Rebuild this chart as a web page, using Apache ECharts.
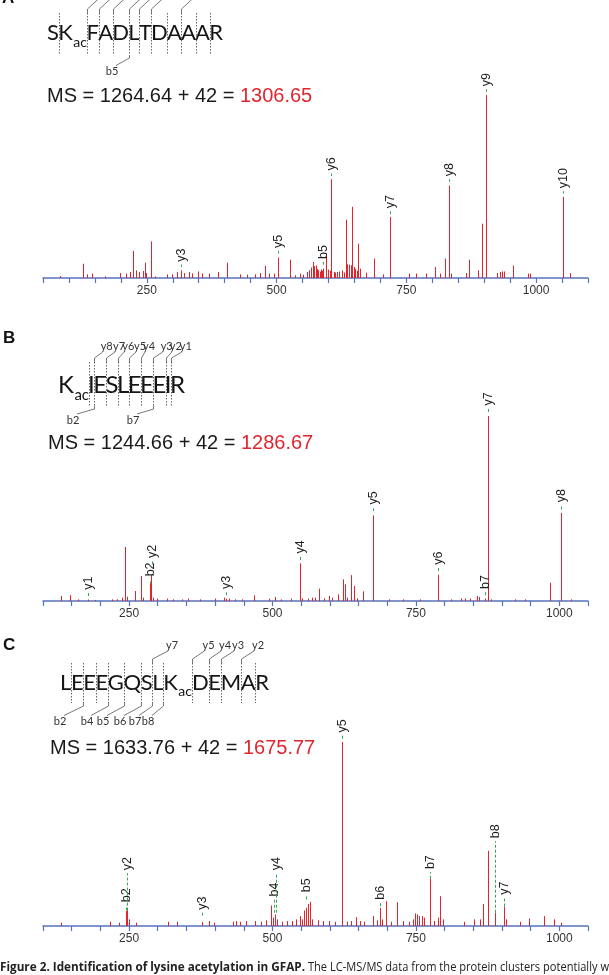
<!DOCTYPE html>
<html>
<head>
<meta charset="utf-8">
<script src="https://cdn.jsdelivr.net/npm/echarts@6/dist/echarts.min.js"></script>
<style>
  html, body { margin: 0; padding: 0; background: #fff; }
  #chart { width: 609px; height: 975px; }
</style>
</head>
<body>
<div id="chart"></div>
<script>
// ---- panel A : SKacFADLTDAAAR ----
const mzA = [83.7,126.4,133.9,143.6,169.8,198.3,209.5,217,223.8,228.3,235.8,241.8,246.3,249.3,258.2,265.7,289.7,298.7,308.4,315.9,321.9,330.9,336.2,348.1,357.1,370.6,387.1,405.1,429.8,443.3,458.3,468,477,486,495.7,503.2,526.5,534.7,544.4,550.4,557.9,563.2,566.9,570.7,572.5,575.9,578,580.4,583,585.7,588,590.2,594.6,599.1,603,605.1,610.4,613,616.4,620,625.4,629,632.9,636.6,640.4,643,645.6,649.3,652,654,656.8,660.6,671.8,686.8,705.5,718.3,755.7,769.2,788,805.2,814.2,825.4,832.9,836.6,865.1,870.4,887.6,895.1,904.1,925,930.3,934.1,938.6,955.1,984.3,988.1,1051,1066];
const intA = [1.1,7.8,2,2.4,0.9,2.7,2.4,3.3,14.8,4.2,3.3,3.8,8.4,2.7,20,0.9,2,2,3.3,4.2,2.7,3.3,2.5,3.6,2.4,2.4,3.3,8.4,2,1.8,2,2.7,6.6,2.4,2.4,11.1,10,1.5,2.4,1.8,3.3,4.2,5.7,8.8,6.5,6.9,5,4.2,3.5,4.6,4,5.1,13.3,4.6,4,54,3.3,3,3.3,3.5,4.2,3,31.9,7.5,7.3,7,38.9,6,5,4,18.8,5.1,2.9,10.6,2,33.4,2.4,2.4,2.4,6,2.4,10.6,50.5,2.4,2.7,10,4.2,29.7,100,2.7,3.3,3.6,3.6,6.8,2.4,2.4,44.3,2.7];
const ionNameA = ['y3','y5','b5','y6','y7','y8','y9','y10'];
const ionMzA = [315.9,503.2,590.2,605.1,718.3,832.9,904.1,1051];
const ionLoA = [6.0,13.3,7.3,55.7,34.9,52.6,101.8,46.2];
const ionHiA = [7.3,14.8,8.8,57.1,36.5,54,103.1,47.4];

// ---- panel B : KacIESLEEEIR ----
const mzB = [130.7,147.6,161,178,191.4,220.4,228.4,238.5,243.3,246.6,260.1,270.9,273.6,285.7,289.1,292.5,299.2,316,326.1,343,353.1,373.3,400.3,415,418.5,423.9,434,447.4,467.7,493.3,504.7,514.8,531.7,547.2,551.9,562,568.7,574.1,580.9,589,597.7,603.8,614.6,622.6,626,629.4,636.1,642.9,648.2,658.4,675.2,703.5,727,757.4,789.1,811.3,828.2,834.9,845,857.2,859.9,870.6,876.4,880.4,922.5,939.4,984.5,1003.4,1020.2];
const intB = [2.7,3.2,0.9,0.8,0.5,0.9,0.9,1.8,29.2,2.3,5.4,13.5,1.8,9.9,14,1.8,1.3,1.3,0.9,0.9,1.3,0.9,1.3,1.8,1.2,1.3,0.9,0.9,3.1,1.3,2.2,0.9,1.3,20.4,1.4,1.3,1.8,1.8,6.7,1.4,2.7,1.8,3.6,11.7,9,1.8,14,8.1,1.4,5.2,46.3,0.9,0.9,0.9,14.2,0.9,1.4,1.4,1.3,2.7,2.2,1.3,100,0.9,0.9,0.9,9.9,47.7,0.9];
const ionNameB = ['y1','b2','y2','y3','y4','y5','y6','b7','y7','y8'];
const ionMzB = [178,285.7,290.5,418.5,547.2,675.2,789.1,870.6,876.4,1003.4];
const ionLoB = [2.7,9,19.8,3.1,22.2,48.6,16.2,3.1,102.2,49.5];
const ionHiB = [4.5,11.7,21.6,4.9,24,50.5,18,4.9,104,51.7];

// ---- panel C : LEEEGQSLKacDEMAR ----
const mzC = [130.7,217,231.8,243.9,246.6,249.3,262.1,318.1,332.9,378,390.2,398.9,430.6,436,444.1,454.2,469,479.8,487.9,498,501.3,504.7,508.1,516.2,524.9,533.7,541.8,547.2,551.9,555.3,559.3,562,564.7,568.7,578.8,588.9,599,609.2,621.3,629.4,636.1,644.9,653,659.7,675.2,682,686.7,691.4,698.1,706.9,717.7,727.1,737.2,745.3,749.3,752,756,760.8,764.2,774.9,780.9,787.7,792.5,797.8,833.6,851.8,862.5,867.3,875.3,887.5,903.6,907.7,931.3,947.4,973,989.9,1003.4];
const intC = [1.8,2.3,1.8,8.1,8.6,3.6,1.8,2.3,2.3,2.2,2.7,1.8,2.3,2.7,2.3,2.7,2.7,2.3,3.1,11.1,4.5,6.3,3.6,2.3,2.7,2.7,3.6,5.4,3.6,8.4,9.9,12,13.1,3.6,3.1,2.7,2.7,2.3,100,2.3,2.7,4.8,2.7,2.3,5.4,3.1,9.9,3.6,13.5,2.3,12.9,2.7,2.3,3.6,6.8,6.3,5.4,5.4,4.5,25.7,2.7,4.5,16.2,3.6,2.3,3.6,3.6,12,40.9,7.2,10.6,3.6,2.3,4.1,5.4,3.6,1.8];
const ionNameC = ['b2','y2','y3','b4','y4','b5','y5','b6','b7','b8','y7'];
const ionMzC = [245.3,246.6,378,502.5,505.5,559.3,621.3,686.7,775,887.5,903.6];
const ionLoC = [8.4,8.4,5.7,7.2,7.2,14.4,101.8,10.8,25.7,7.2,10.6];
const ionHiC = [11.3,28.7,7.2,14.4,28.7,16.7,103.6,12.6,29.3,46.1,15.3];

// axis ranges and tick labels
const xMinA = 50, xMaxA = 1100, xMinBC = 100, xMaxBC = 1050, tickStep = 50;
const tickLabels = [250, 500, 750, 1000];

// peptide sequences (index of acetylated lysine), fragment ions (boundary after k residues)
const seqA = ['S','K','F','A','D','L','T','D','A','A','A','R'], modA = 1;
const seqB = ['K','I','E','S','L','E','E','E','I','R'], modB = 0;
const seqC = ['L','E','E','E','G','Q','S','L','K','D','E','M','A','R'], modC = 8;
const yCutA = [2,3,4,5,6,7,9];
const bCutA = [['b5',5]];
const yCutB = [['y8',2],['y7',3],['y6',4],['y5',5],['y4',6],['y3',7],['y2',8],['y1',9]];
const bCutB = [['b2',2],['b7',7]];
const yCutC = [['y7',7],['y5',9],['y4',10],['y3',11],['y2',12]];
const bCutC = [['b2',2],['b4',4],['b5',5],['b6',6],['b7',7],['b8',8]];

const RED = '#e3232b', GREEN = '#36a852', AXIS = '#5873bd';

const measure = document.createElement('canvas').getContext('2d');
function textWidth(s, font) { measure.font = font; return measure.measureText(s).width; }

function seqGraphics(cfg) {
  const smallSize = Math.round(cfg.size * 0.62);
  const big = cfg.size + 'px Lato';
  const small = smallSize + 'px Lato';
  // one block per residue; the acetyl subscript is glued to its lysine
  const blocks = cfg.res.map((r, i) => {
    const w = textWidth(r, big);
    const ws = i === cfg.mod ? textWidth('ac', small) + 1 : 0;
    return { r: r, i: i, w: w, ws: ws };
  });
  const natural = blocks.reduce((s, b) => s + b.w + b.ws, 0);
  const gap = (cfg.x1 - cfg.x0 - natural) / (blocks.length - 1);
  let x = cfg.x0;
  blocks.forEach(b => { b.x = x; x += b.w + b.ws + gap; });
  const bx = k => Math.round(blocks[k].x - gap / 2) + 0.5;

  const els = [];
  blocks.forEach(b => {
    els.push({ type: 'text', x: b.x, y: cfg.base + cfg.size * 0.17,
      style: { text: b.r, font: big, fill: '#151515', align: 'left', verticalAlign: 'bottom' } });
    if (b.ws) els.push({ type: 'text', x: b.x + b.w + 0.5, y: cfg.base + cfg.size * 0.3 + smallSize * 0.17,
      style: { text: 'ac', font: small, fill: '#151515', align: 'left', verticalAlign: 'bottom' } });
  });
  for (let k = 1; k < cfg.res.length; k++) {
    const px = bx(k);
    els.push({ type: 'line', shape: { x1: px, y1: cfg.dotTop, x2: px, y2: cfg.dotBot },
      style: { stroke: '#666', lineWidth: 1, lineDash: [1.5, 1.5] } });
  }
  const labFont = '11px Lato';
  cfg.yIons.forEach(ion => {
    const px = bx(ion.k);
    const end = ion.lx == null ? [px + 14, cfg.dotTop - 17] : [ion.lx - 4, cfg.yLabY + 6];
    els.push({ type: 'polyline', shape: { points: [[px, cfg.dotTop], [px, cfg.dotTop - 4], end] },
      style: { stroke: '#555', lineWidth: 0.8, fill: null } });
    if (ion.lx != null) els.push({ type: 'text', x: ion.lx, y: cfg.yLabY,
      style: { text: ion.name, font: labFont, fill: '#333', align: 'center', verticalAlign: 'middle' } });
  });
  cfg.bIons.forEach(ion => {
    const px = bx(ion.k);
    els.push({ type: 'polyline', shape: { points: [[px, cfg.dotBot], [px, cfg.dotBot + 3], [ion.lx + 4, cfg.bLabY - 6]] },
      style: { stroke: '#555', lineWidth: 0.8, fill: null } });
    els.push({ type: 'text', x: ion.lx, y: cfg.bLabY,
      style: { text: ion.name, font: labFont, fill: '#333', align: 'center', verticalAlign: 'middle' } });
  });
  return els;
}

function msGraphics(x, base, a, b) {
  const f = '20px "Liberation Sans"';
  const head = 'MS = ' + a + ' + 42 = ';
  const w = textWidth(head, f);
  return [
    { type: 'text', x: x, y: base + 4, style: { text: head, font: f, fill: '#1a1a1a', verticalAlign: 'bottom' } },
    { type: 'text', x: x + w, y: base + 4, style: { text: b, font: f, fill: '#e0262e', verticalAlign: 'bottom' } }
  ];
}

function captionGraphics() {
  const fb = 'bold 13px "Open Sans"', fn = '13px "Open Sans"';
  const bold = 'Figure 2. Identification of lysine acetylation in GFAP.';
  const rest = ' The LC-MS/MS data from the protein clusters potentially w';
  const sx = 305 / textWidth(bold, fb);
  const sr = 304 / textWidth(rest, fn);
  return [
    { type: 'text', x: 0, y: 967, scaleX: sx, style: { text: bold, font: fb, fill: '#222', verticalAlign: 'middle' } },
    { type: 'text', x: 305, y: 967, scaleX: sr, style: { text: rest, font: fn, fill: '#222', verticalAlign: 'middle' } }
  ];
}

const pick = (list, labs) => list.map((c, i) => ({ name: c[0], k: c[1], lx: labs[i] }));

const graphics = [].concat(
  { type: 'text', x: 2, y: 7, style: { text: 'A', font: 'bold 17px "Liberation Sans"', fill: '#111', verticalAlign: 'bottom' } },
  { type: 'text', x: 3, y: 347, style: { text: 'B', font: 'bold 17px "Liberation Sans"', fill: '#111', verticalAlign: 'bottom' } },
  { type: 'text', x: 3, y: 654, style: { text: 'C', font: 'bold 17px "Liberation Sans"', fill: '#111', verticalAlign: 'bottom' } },
  seqGraphics({ res: seqA, mod: modA, x0: 47, x1: 223, base: 40.5, size: 22, dotTop: 13, dotBot: 55,
    yIons: yCutA.map(k => ({ k: k })), bIons: pick(bCutA, [112]), bLabY: 71.5 }),
  seqGraphics({ res: seqB, mod: modB, x0: 58, x1: 185, base: 393, size: 24, dotTop: 362, dotBot: 406,
    yIons: pick(yCutB, [106.7, 119, 128.3, 140, 149, 166.7, 175.8, 185.8]), yLabY: 346,
    bIons: pick(bCutB, [73, 133]), bLabY: 420 }),
  seqGraphics({ res: seqC, mod: modC, x0: 60, x1: 269, base: 690, size: 22, dotTop: 663, dotBot: 703,
    yIons: pick(yCutC, [172, 208.5, 225, 238, 258]), yLabY: 645,
    bIons: pick(bCutC, [60, 87, 103, 120, 135, 148]), bLabY: 721.5 }),
  msGraphics(47, 102, '1264.64', '1306.65'),
  msGraphics(48, 449, '1244.66', '1286.67'),
  msGraphics(50, 754, '1633.76', '1675.77'),
  captionGraphics()
);

function peakItem(params, api) {
  const base = api.coord([api.value(0), 0]);
  const top = api.coord([api.value(0), api.value(1)]);
  const x = Math.round(base[0]) + 0.5;
  return { type: 'line', shape: { x1: x, y1: base[1], x2: x, y2: top[1] }, style: { stroke: RED, lineWidth: 1 } };
}

function ionItem(names) {
  return function (params, api) {
    const lo = api.coord([api.value(0), api.value(1)]);
    const hi = api.coord([api.value(0), api.value(2)]);
    const x = Math.round(lo[0]) + 0.5;
    return { type: 'group', children: [
      { type: 'line', shape: { x1: x, y1: lo[1], x2: x, y2: hi[1] }, style: { stroke: GREEN, lineWidth: 1, lineDash: [3, 2] } },
      { type: 'text', x: x, y: hi[1] - 3, rotation: Math.PI / 2,
        style: { text: names[params.dataIndex], font: '12.5px "Liberation Sans"', fill: '#1e1e1e', align: 'left', verticalAlign: 'middle' } }
    ] };
  };
}

const grids = [
  { left: 43, right: 21, top: 95, bottom: 697 },
  { left: 43, right: 21, top: 416, bottom: 374 },
  { left: 43, right: 21, top: 742, bottom: 49 }
];

function xAxisFor(i, min, max) {
  return {
    type: 'value', gridIndex: i, min: min, max: max, interval: tickStep,
    splitLine: { show: false },
    axisLine: { lineStyle: { color: AXIS, width: 1.5 } },
    axisTick: { length: 5, lineStyle: { color: AXIS, width: 1.2 } },
    axisLabel: { margin: 7, color: '#333', fontSize: 12, fontFamily: 'Liberation Sans',
      formatter: v => (tickLabels.indexOf(v) >= 0 ? String(v) : '') }
  };
}

const panels = [
  [mzA, intA, ionNameA, ionMzA, ionLoA, ionHiA],
  [mzB, intB, ionNameB, ionMzB, ionLoB, ionHiB],
  [mzC, intC, ionNameC, ionMzC, ionLoC, ionHiC]
];

const series = [];
panels.forEach((p, i) => {
  series.push({ type: 'custom', xAxisIndex: i, yAxisIndex: i, renderItem: peakItem, z: 2,
    data: p[0].map((m, j) => [m, p[1][j]]) });
  series.push({ type: 'custom', xAxisIndex: i, yAxisIndex: i, renderItem: ionItem(p[2]), z: 3,
    dimensions: ['mz', 'lo', 'hi'], encode: { x: 0, y: [1, 2] },
    data: p[3].map((m, j) => [m, p[4][j], p[5][j]]) });
});

const chart = echarts.init(document.getElementById('chart'));
chart.setOption({
  animation: false,
  backgroundColor: '#fff',
  grid: grids,
  xAxis: [xAxisFor(0, xMinA, xMaxA), xAxisFor(1, xMinBC, xMaxBC), xAxisFor(2, xMinBC, xMaxBC)],
  yAxis: [0, 1, 2].map(i => ({ type: 'value', gridIndex: i, min: 0, max: 100, show: false })),
  series: series,
  graphic: { elements: graphics }
});
</script>
</body>
</html>
